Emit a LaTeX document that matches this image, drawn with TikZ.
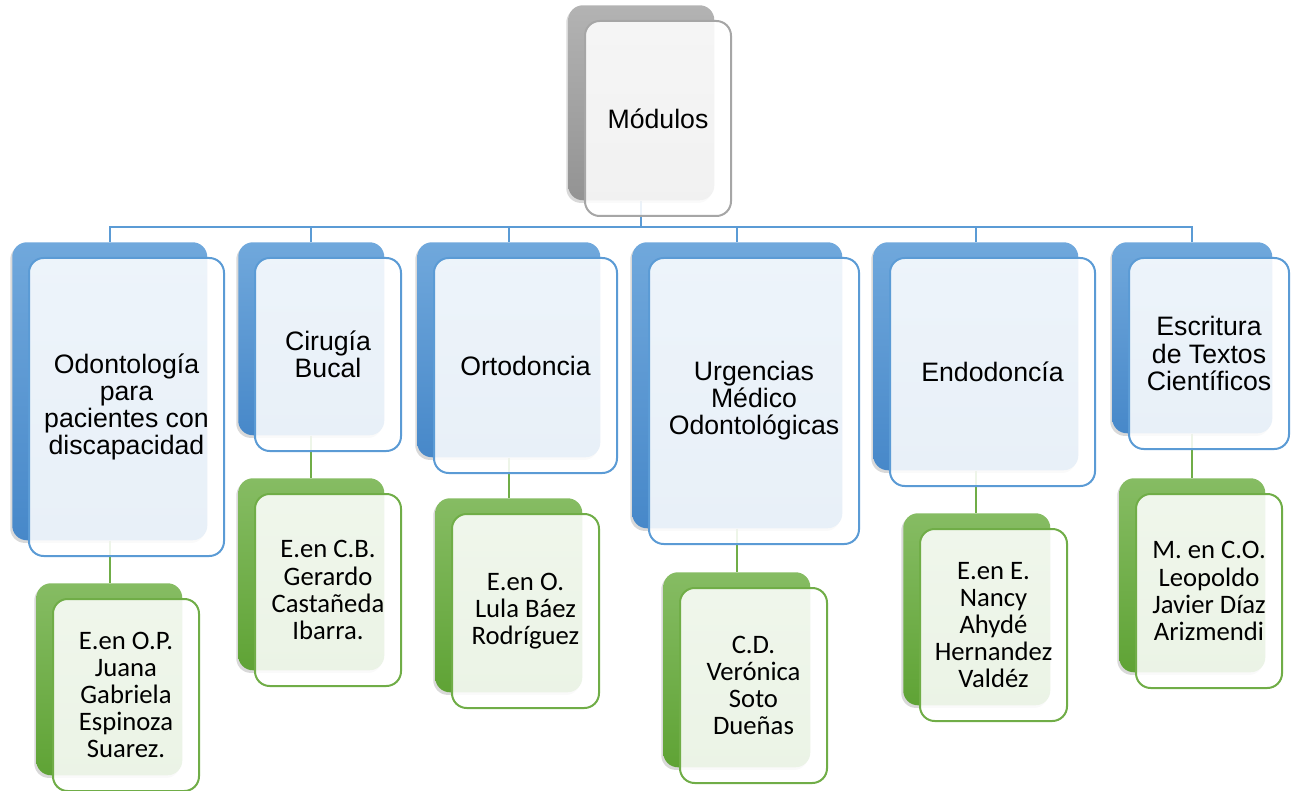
\documentclass[tikz,border=0pt]{standalone}
\usepackage{fontspec}
\setmainfont{Liberation Sans}
\newfontfamily\calfont{Carlito}
\usetikzlibrary{shadows}
\definecolor{bluebd}{HTML}{5B9BD5}
\definecolor{bluetop}{HTML}{70A8DC}
\definecolor{bluebot}{HTML}{4788C9}
\definecolor{greenbd}{HTML}{70AD47}
\definecolor{greentop}{HTML}{86BC63}
\definecolor{greenbot}{HTML}{5FA335}
\definecolor{graybd}{HTML}{A6A6A6}
\definecolor{graytop}{HTML}{B3B3B3}
\definecolor{graybot}{HTML}{939393}
\pgfdeclarelayer{bg}
\pgfsetlayers{bg,main}
\tikzset{
  backbase/.style={rounded corners=11pt, inner sep=0pt, anchor=north west, draw=none,
    drop shadow={shadow xshift=-1.5pt, shadow yshift=-2pt, opacity=0.3}},
  blueback/.style={backbase, top color=bluetop, bottom color=bluebot},
  greenback/.style={backbase, top color=greentop, bottom color=greenbot},
  grayback/.style={backbase, top color=graytop, bottom color=graybot},
  frontbase/.style={rounded corners=11pt, inner sep=0pt, anchor=north west, fill=white,
    fill opacity=0.88, text opacity=1, line width=1.5pt, align=center,
    font=\fontsize{20}{20.3}\selectfont},
  bluefront/.style={frontbase, draw=bluebd},
  grayfront/.style={frontbase, draw=graybd},
  greenfront/.style={frontbase, draw=greenbd, font=\calfont\fontsize{20}{20.3}\selectfont},
  conn/.style={line width=1.5pt}
}
\newcommand\pairbox[8]{%
  \node[#2, minimum width={(#6-#4)*0.75pt}, minimum height={(#7-#5)*0.75pt}] (#1b) at (#4,#5) {};
  \node[#3, minimum width={(#6-#4)*0.75pt}, minimum height={(#7-#5)*0.75pt}] (#1) at (#4+16,#5+15) {#8};
}
\begin{document}
\begin{tikzpicture}[x=0.75pt,y=-0.75pt]
\useasboundingbox (0,0) rectangle (1295,791);
\pairbox{t}{grayback}{grayfront}{568}{5}{714}{200}{Módulos}
\pairbox{b1}{blueback}{bluefront}{12}{242}{207}{540}{Odontología\\para\\pacientes con\\discapacidad}
\pairbox{b2}{blueback}{bluefront}{238}{242}{384}{435}{Cirugía\\Bucal}
\pairbox{b3}{blueback}{bluefront}{417}{242}{600}{457}{Ortodoncia}
\pairbox{b4}{blueback}{bluefront}{632}{242}{842}{528}{Urgencias\\Médico\\Odontológicas}
\pairbox{b5}{blueback}{bluefront}{873}{242}{1078}{470}{Endodoncía}
\pairbox{b6}{blueback}{bluefront}{1112}{242}{1272}{433}{Escritura\\de Textos\\Científicos}
\pairbox{g1}{greenback}{greenfront}{36}{583}{182}{775}{E.en O.P.\\Juana\\Gabriela\\Espinoza\\Suarez.}
\pairbox{g2}{greenback}{greenfront}{238}{478}{384}{670}{E.en C.B.\\Gerardo\\Castañeda\\Ibarra.}
\pairbox{g3}{greenback}{greenfront}{435}{498}{582}{692}{E.en O.\\Lula Báez\\Rodríguez}
\pairbox{g4}{greenback}{greenfront}{663}{572}{810}{767}{C.D.\\Verónica\\Soto\\Dueñas}
\pairbox{g5}{greenback}{greenfront}{903}{513}{1050}{705}{E.en E.\\Nancy\\Ahydé\\Hernandez\\Valdéz}
\pairbox{g6}{greenback}{greenfront}{1119}{478}{1265}{672}{M. en C.O.\\Leopoldo\\Javier Díaz\\Arizmendi}
\coordinate (bus) at (641,227);
\begin{pgfonlayer}{bg}
  \draw[conn, bluebd] (tb.south) -- (tb.south |- bus);
  \draw[conn, bluebd] (b1b.north) -- (b1b.north |- bus) -- (b6b.north |- bus) -- (b6b.north);
  \foreach \k in {2,3,4,5}{
    \draw[conn, bluebd] (b\k b.north |- bus) -- (b\k b.north);
  }
  \foreach \k in {1,...,6}{
    \draw[conn, greenbd] (b\k b.south) -- (b\k b.south |- g\k b.north);
  }
\end{pgfonlayer}
\end{tikzpicture}
\end{document}
